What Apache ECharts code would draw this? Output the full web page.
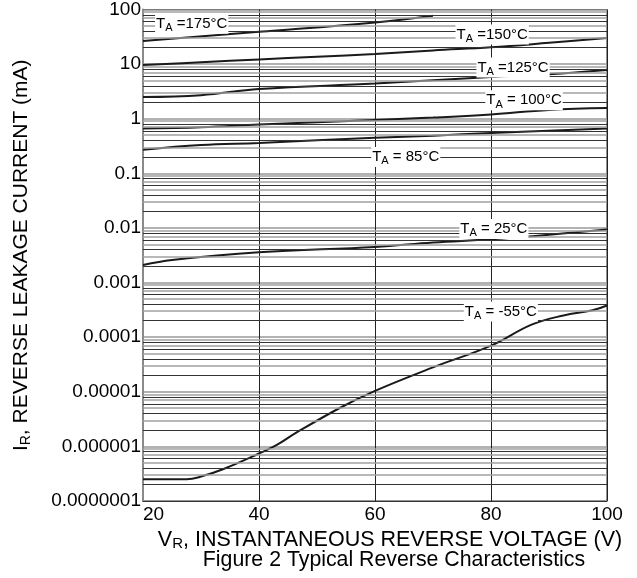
<!DOCTYPE html>
<html><head><meta charset="utf-8">
<script src="https://cdn.jsdelivr.net/npm/echarts@6/dist/echarts.min.js"></script>
<style>html,body{margin:0;padding:0;background:#fff}#c{width:637px;height:578px}</style>
</head><body><div id="c"></div>
<script>
const FONT = '"Liberation Sans", Arial, Helvetica, sans-serif';

// axis ticks
const xTicks = [20, 40, 60, 80, 100];
const yTickLabels = ['0.0000001','0.000001','0.00001','0.0001','0.001','0.01','0.1','1','10','100'];
const yDecades = [1e-7, 1e-6, 1e-5, 1e-4, 1e-3, 1e-2, 1e-1, 1, 10];
const gridMultipliers = [2, 3, 4, 5, 6, 7, 8, 9];

// series: reverse voltage (V) and leakage current (mA)
const v175 = [20, 40, 60, 70];
const i175 = [26.5, 39, 58, 77];
const v150 = [20, 30, 40, 50, 60, 70, 80, 90, 100];
const i150 = [9.6, 10.8, 12.2, 13.6, 15.3, 17.8, 20.3, 24.5, 30];
const v125 = [20, 30, 40, 60, 80, 90, 100];
const i125 = [2.5, 2.7, 3.5, 4.4, 5.8, 6.5, 7.8];
const v100 = [20, 30, 40, 60, 70, 80, 90, 100];
const i100 = [0.66, 0.7, 0.78, 0.95, 1.05, 1.2, 1.45, 1.57];
const v85 = [20, 30, 40, 60, 70, 80, 100];
const i85 = [0.27, 0.33, 0.36, 0.45, 0.49, 0.55, 0.66];
const v25 = [20, 25, 40, 60, 70, 80, 90, 100];
const i25 = [0.0021, 0.0026, 0.0036, 0.0045, 0.0054, 0.0062, 0.0075, 0.0094];
const vM55 = [20, 27.5, 30, 34, 40, 43, 46.5, 54, 60, 70, 80, 87, 92.5, 97.5, 100];
const iM55 = [2.5e-7, 2.5e-7, 2.8e-7, 3.9e-7, 7.4e-7, 1.05e-6, 1.8e-6, 5.1e-6, 1.04e-5, 2.8e-5, 7e-5, 1.7e-4, 2.5e-4, 3.1e-4, 3.8e-4];

// curve labels
const labelTexts = ['=175°C', '=150°C', '=125°C', '= 100°C', '= 85°C', '= 25°C', '= -55°C'];
const labelV = [28.4, 80.2, 83.8, 85.7, 65.3, 80.5, 81.7];
const labelI = [55, 35, 8.7, 2.18, 0.2, 0.0096, 0.000294];

const curves = [
  [v175, i175], [v150, i150], [v125, i125], [v100, i100], [v85, i85], [v25, i25], [vM55, iM55]
];

const pairs = (v, i) => v.map((x, k) => [x, i[k]]);

const labelRich = {
  t: { fontSize: 15, lineHeight: 20, verticalAlign: 'middle', color: '#000', fontFamily: FONT },
  s: { fontSize: 11, lineHeight: 11, verticalAlign: 'bottom', color: '#000', fontFamily: FONT }
};

const gridLineData = [];
yDecades.forEach(d => {
  gridMultipliers.forEach(m => {
    gridLineData.push({
      yAxis: d * m,
      lineStyle: { color: (m % 2 === 0) ? '#333' : '#a0a0a0', width: (m % 2 === 0) ? 1 : 1.5, type: 'solid' }
    });
  });
});

const series = [{
  type: 'line', data: [], z: 1, silent: true,
  markLine: {
    silent: true, symbol: ['none', 'none'], label: { show: false }, animation: false,
    precision: 12,
    data: gridLineData
  }
}];

curves.forEach((c, idx) => {
  series.push({
    type: 'line',
    data: pairs(c[0], c[1]),
    showSymbol: false,
    smooth: 0.4,
    silent: true,
    z: 4,
    lineStyle: { color: '#1a1a1a', width: 2 },
    markPoint: {
      symbol: 'rect', symbolSize: 0, silent: true, animation: false,
      data: [{ coord: [labelV[idx], labelI[idx]] }],
      label: {
        show: true, position: 'inside',
        formatter: '{t|T}{s|A}{t| ' + labelTexts[idx] + '}',
        backgroundColor: '#fff', padding: [0, 1, 0, 1],
        rich: labelRich
      }
    }
  });
});

const chart = echarts.init(document.getElementById('c'), null, { renderer: 'canvas' });
chart.setOption({
  animation: false,
  backgroundColor: '#fff',
  textStyle: { fontFamily: FONT, color: '#000' },
  grid: { left: 143, right: 30, top: 8, bottom: 77, show: true, borderColor: '#222', borderWidth: 1 },
  xAxis: {
    type: 'value', min: xTicks[0], max: xTicks[xTicks.length - 1], interval: 20,
    axisLine: { show: true, lineStyle: { color: '#333', width: 1 } },
    axisTick: { show: false },
    splitLine: { show: true, lineStyle: { color: '#222', width: 1 } },
    axisLabel: { fontSize: 19, color: '#000', margin: 4, fontFamily: FONT, alignMinLabel: 'left' },
    name: '{n|V}{s|R}{n|, INSTANTANEOUS REVERSE VOLTAGE (V)}',
    nameLocation: 'middle', nameGap: 23,
    nameTextStyle: {
      padding: [0, 0, 0, 30],
      rich: {
        n: { fontSize: 21.5, lineHeight: 23, verticalAlign: 'middle', color: '#000', fontFamily: FONT },
        s: { fontSize: 15, lineHeight: 12, verticalAlign: 'bottom', color: '#000', fontFamily: FONT }
      }
    }
  },
  yAxis: {
    type: 'log', logBase: 10, min: 1e-7, max: 100,
    axisLine: { show: true, lineStyle: { color: '#8a8a8a', width: 2 } },
    axisTick: { show: false },
    splitLine: { show: true, lineStyle: { color: '#999', width: 1.5 } },
    axisLabel: {
      fontSize: 19, color: '#000', margin: 2, fontFamily: FONT,
      formatter: v => yTickLabels[Math.round(Math.log10(v)) + 7]
    },
    name: '{n|I}{s|R}{n|, REVERSE LEAKAGE CURRENT (mA)}',
    nameLocation: 'middle', nameGap: 110, nameRotate: 90,
    nameTextStyle: {
      rich: {
        n: { fontSize: 21, lineHeight: 23, verticalAlign: 'middle', color: '#000', fontFamily: FONT },
        s: { fontSize: 14, lineHeight: 12, verticalAlign: 'bottom', color: '#000', fontFamily: FONT }
      }
    }
  },
  graphic: [{
    type: 'text', x: 394, y: 560,
    style: { text: 'Figure 2 Typical Reverse Characteristics', fontSize: 21.3, fontFamily: FONT, fill: '#000', textAlign: 'center', textVerticalAlign: 'middle' }
  }],
  series: series
});
</script>
</body></html>
